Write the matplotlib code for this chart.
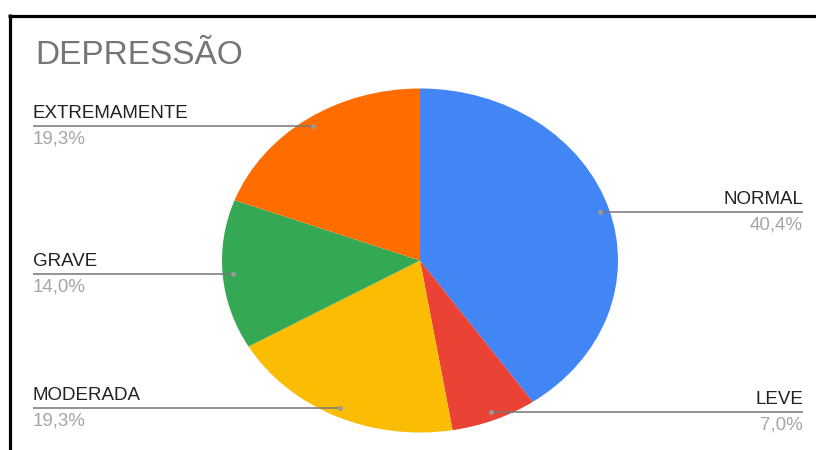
import numpy as np
import matplotlib.pyplot as plt
from matplotlib.lines import Line2D

# data (57 answers in total)
labels = ['NORMAL', 'LEVE', 'MODERADA', 'GRAVE', 'EXTREMAMENTE']
counts = [23, 4, 11, 8, 11]
colors = ['#4285F4', '#EA4335', '#FBBC04', '#34A853', '#FF6D01']
title = 'DEPRESSÃO'

W, H = 816, 450
cx, cy = 420, 260.5    # pie centre, px
rx, ry = 198, 172      # the picture is stretched sideways

plt.rcParams['font.family'] = ['Liberation Sans', 'DejaVu Sans']
fig = plt.figure(figsize=(W / 100, H / 100), dpi=100)
ax = fig.add_axes([0, 0, 1, 1])

wedges, _ = ax.pie(counts, colors=colors, startangle=90, counterclock=False,
                   radius=1, wedgeprops=dict(linewidth=0))
ax.set_aspect('auto')
ax.set_xlim(-cx / rx, (W - cx) / rx)
ax.set_ylim(-(H - cy) / ry, cy / ry)
ax.axis('off')


def to_data(x, y):
    return (x - cx) / rx, (cy - y) / ry


total = sum(counts)
for w, lab, n in zip(wedges, labels, counts):
    mid = np.deg2rad((w.theta1 + w.theta2) / 2)
    dx, dy = 0.95 * np.cos(mid), 0.95 * np.sin(mid)
    dot_y = cy - dy * ry
    right = dx > 0
    x_end = 803 if right else 33
    ha = 'right' if right else 'left'
    ex, ey = to_data(x_end, dot_y)
    ax.plot([dx, ex], [dy, ey], color='#777777', lw=1.1, solid_capstyle='butt')
    ax.plot(dx, dy, 'o', color='#9a9a9a', ms=3.5, mec='none')
    tx, ty = to_data(x_end, dot_y - 4)
    ax.text(tx, ty, lab, ha=ha, va='bottom', fontsize=13.5, color='#222222')
    pct = f"{n / total * 100:.1f}%".replace('.', ',')
    tx, ty = to_data(x_end, dot_y + 4.5)
    ax.text(tx, ty, pct, ha=ha, va='top', fontsize=13.5, color='#a6a6a6')

fig.text(35 / W, 1 - 55 / H, title, fontsize=24, color='#757575', va='center')

# black frame (only top and left edges are visible)
fig.add_artist(Line2D([8 / W, 1], [1 - 15.5 / H] * 2, transform=fig.transFigure,
                      color='black', lw=2.3, solid_capstyle='butt'))
fig.add_artist(Line2D([9.5 / W] * 2, [0, 1 - 14 / H], transform=fig.transFigure,
                      color='black', lw=2.3, solid_capstyle='butt'))

fig.savefig('out.png', dpi=100)
